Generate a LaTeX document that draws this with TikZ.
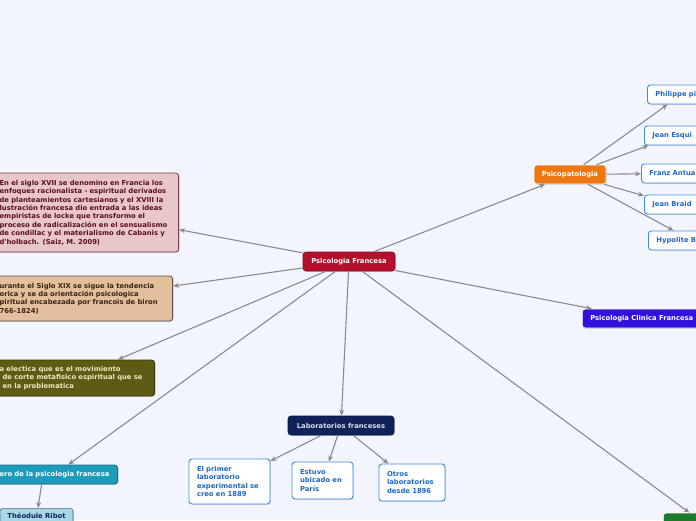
\documentclass[tikz,border=0pt]{standalone}
\usepackage{fontspec}
\usepackage{xcolor}
\usepackage{tikz}
\usetikzlibrary{arrows.meta,shadows}
\newfontfamily\mapfont{DejaVu Sans}
\definecolor{bgcol}{HTML}{F2F5FD}
\definecolor{crimson}{HTML}{B5102B}
\definecolor{pinkbox}{HTML}{E8C7CB}
\definecolor{pinktext}{HTML}{5C0E1E}
\definecolor{tanbox}{HTML}{E3BF9D}
\definecolor{tantext}{HTML}{3A2414}
\definecolor{olivebox}{HTML}{5F5A14}
\definecolor{olivetext}{HTML}{F1E7BF}
\definecolor{tealbox}{HTML}{1C9BBB}
\definecolor{ribotbox}{HTML}{A6D9E6}
\definecolor{navybox}{HTML}{0F2259}
\definecolor{orangebox}{HTML}{EE7711}
\definecolor{violetbox}{HTML}{3311DD}
\definecolor{greenbox}{HTML}{1C7A2C}
\definecolor{leafline}{HTML}{3D8BE0}
\definecolor{leaftext}{HTML}{2068C8}
\definecolor{arrowgray}{HTML}{8A8A8A}
\tikzset{
  box/.style  ={rectangle,rounded corners=3pt,inner sep=0pt,
                font=\mapfont\bfseries\fontsize{6.8}{8.4}\selectfont,
                drop shadow={shadow xshift=0.8pt,shadow yshift=-0.8pt,opacity=0.3}},
  topic/.style={box,text=white,draw=white,line width=0.6pt,minimum height=19pt},
  note/.style ={box,align=left,line width=0.8pt},
  leaf/.style ={box,fill=white,draw=leafline,line width=0.9pt,text=leaftext,
                align=left,inner xsep=8pt},
  ar/.style={-{Stealth[length=6pt,width=5pt]},draw=arrowgray,line width=1.1pt},
}
\begin{document}
\begin{tikzpicture}[x=1pt,y=-1pt]
  \useasboundingbox (0,0) rectangle (696,520);
  \fill[bgcol] (0,0) rectangle (696,520);
  \clip (0,0) rectangle (696,520);

  \node[topic,fill=crimson,draw=crimson!80!black,minimum width=92pt] (psifr) at (349,261.5) {Psicologia Francesa};

  % left side
  \node[note,fill=pinkbox,draw=pinktext!80,text=pinktext,text width=175pt,inner xsep=4pt,
        minimum height=79pt,anchor=east] (siglo) at (179,212.5)
    {En el siglo XVII se denomino en Francia los\\enfoques racionalista - espiritual derivados\\
     de planteamientos cartesianos y el XVIII la\\lustración francesa dio entrada a las ideas\\
     empiristas de locke que transformo el\\proceso de radicalización en el sensualismo\\
     de condillac y el materialismo de Cabanis y\\d'holbach. (Saiz, M. 2009)};
  \node[note,fill=tanbox,draw=tantext!80,text=tantext,text width=168pt,inner xsep=5pt,
        minimum height=45pt,anchor=east] (xix) at (173,298.5)
    {urante el Siglo XIX se sigue la tendencia\\orica y se da orientación psicologica\\
     piritual encabezada por francois de biron\\766-1824)};
  \node[note,fill=olivebox,draw=olivebox!60!black,text=olivetext,text width=150pt,inner xsep=5pt,
        minimum height=36pt,anchor=east] (electica) at (155,378)
    {a electica que es el movimiento\\\hspace*{3pt}de corte metafisico espiritual que se\\\hspace*{3pt}en la problematica};
  \node[note,fill=tealbox,draw=tealbox!70!black,text=white,text width=110pt,inner xsep=8pt,
        minimum height=19pt,anchor=east] (pionero) at (118,474.5) {ero de la psicologia francesa};
  \node[topic,fill=ribotbox,draw=navybox!70,text=navybox,minimum width=73pt,minimum height=16pt,
        anchor=north] (ribot) at (36.5,508) {Théodule Ribot};

  % laboratorios
  \node[topic,fill=navybox,draw=navybox!60!black,text=white!85!navybox,minimum width=106pt] (labs) at (341,425.5) {Laboratorios franceses};
  \node[leaf,text width=65pt,minimum height=45pt] (lab1) at (229.5,481.5) {El primer\\laboratorio\\experimental se\\creo en 1889};
  \node[leaf,text width=45pt,minimum height=37pt] (lab2) at (322.5,480.5) {Estuvo\\ubicado en\\París};
  \node[leaf,text width=50pt,minimum height=37pt] (lab3) at (412,482.5) {Otros\\laboratorios\\desde 1896};

  % psicopatologia
  \node[topic,fill=orangebox,minimum width=72pt] (psico) at (570,174.5) {Psicopatologia};
  \node[leaf,text width=52pt,minimum height=19pt,anchor=west] (pinel) at (647,94.5) {Philippe pi};
  \node[leaf,text width=46pt,minimum height=19pt,anchor=west] (esqui) at (644,135.5) {Jean Esqui};
  \node[leaf,text width=54pt,minimum height=19pt,anchor=west] (antua) at (641,173.5) {Franz Antua};
  \node[leaf,text width=44pt,minimum height=19pt,anchor=west] (braid) at (644,204.5) {Jean Braid};
  \node[leaf,text width=71pt,minimum height=19pt,anchor=west] (hypo) at (648,240.5) {Hypolite B};

  \node[topic,fill=violetbox,align=left,text width=104pt,inner xsep=8pt,anchor=west] (clinica) at (582,318.5) {Psicologia Clinica Francesa};
  \node[topic,fill=greenbox,minimum width=80pt,minimum height=20pt,anchor=west] (verde) at (663,523) {};

  \draw[ar] (psifr) -- (siglo);
  \draw[ar] (psifr) -- (xix);
  \draw[ar] (psifr) -- (electica);
  \draw[ar] (psifr) -- (pionero);
  \draw[ar] (pionero.south) ++(-13pt,0) -- ([xshift=1.5pt]ribot.north);
  \draw[ar] (psifr) -- (labs);
  \draw[ar] (labs) -- (lab1);
  \draw[ar] (labs) -- (lab2);
  \draw[ar] (labs) -- (lab3);
  \draw[ar] (psifr) -- (psico);
  \draw[ar] (psico) -- (pinel);
  \draw[ar] (psico) -- (esqui);
  \draw[ar] (psico) -- (antua);
  \draw[ar] (psico) -- (braid);
  \draw[ar] (psico) -- (hypo);
  \draw[ar] (psifr) -- (clinica);
  \draw[ar] (psifr) -- (verde);
\end{tikzpicture}
\end{document}
